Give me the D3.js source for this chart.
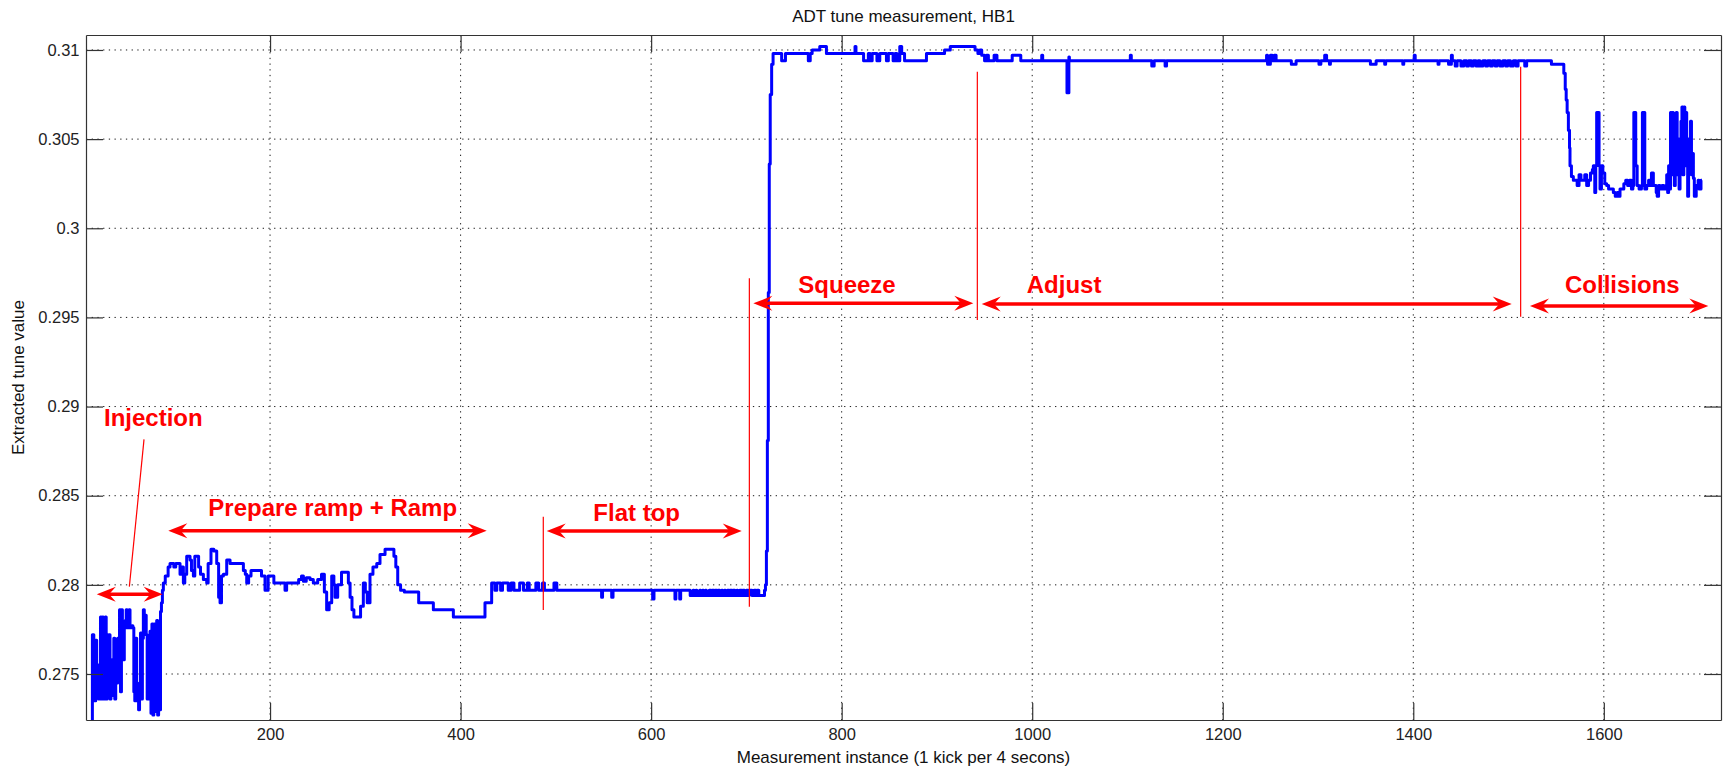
<!DOCTYPE html>
<html>
<head>
<meta charset="utf-8">
<script src="https://cdn.jsdelivr.net/npm/d3@7"></script>
<style>
  body { margin: 0; background: #fff; }
  text { font-family: "Liberation Sans", Arial, sans-serif; }
</style>
</head>
<body>
<div id="chart"></div>
<script>
const injection = [
  [13,0.2722],[13.5,0.2772],[15,0.2768],[16,0.2735],[17,0.2769],[18,0.2738],[19,0.2755],[20,0.2736],
  [21,0.2740],[22,0.2782],[23,0.2736],[24,0.2782],[25,0.2777],[26,0.2736],[27,0.2782],[28,0.2736],
  [29,0.2772],[30,0.2739],[31,0.2772],[32,0.2736],[33,0.2740],[34,0.2758],[35,0.2738],[36,0.2770],
  [37,0.2736],[38,0.2765],[39,0.2745],[40,0.2770],[41,0.2750],[42,0.2786],[43,0.2740],[44,0.2786],
  [45,0.2776],[46,0.2758],[47,0.2776],[48,0.2780],[49,0.2786],[50,0.2776],[51,0.2783],[52,0.2786],
  [53,0.2776],[55,0.2777],[56,0.2776],[57,0.2740],[58,0.2735],[59,0.2770],[60,0.2735],[61,0.2740],
  [62,0.2730],[63,0.2745],[64,0.2773],[65,0.2736],[66,0.2770],[67,0.2786],[68,0.2778],[69,0.2783],
  [70,0.2772],[71,0.2736],[72,0.2768],[73,0.2736],[74,0.2774],[75,0.2728],[76,0.2778],[77,0.2727],
  [78,0.2778],[79,0.2774],[80,0.2729],[81,0.2780],[82,0.2727],[83,0.2776],[84,0.2730],[85,0.2785],
  [86,0.2790],[87,0.2797],[88,0.2801]
];
const prepareRamp = [
  [90,0.2805],[93,0.2810],[95,0.2812],[99,0.2810],[101,0.2812],[104,0.2812],[105.5,0.2806],[107,0.2810],
  [109,0.2801],[110.5,0.2806],[112.5,0.2816],[116,0.2814],[117.5,0.2808],[119.5,0.2805],[121,0.2816],
  [123,0.2816],[125,0.2810],[127,0.2806],[130,0.2803],[133.5,0.2801],[135,0.2812],[138,0.2820],
  [141,0.2819],[144,0.2812],[146,0.2793],[147.5,0.2790],[149,0.2805],[151,0.2806],[154.5,0.2814],
  [158,0.2812],[170,0.2812],[172,0.2808],[174,0.2806],[175.5,0.2801],[177.5,0.2805],[180,0.2808],
  [187,0.2808],[191,0.2805],[194.7,0.2797],[198,0.2805],[201,0.2805],[204,0.2801],[213,0.2801],
  [215.7,0.2797],[217.4,0.2801],[228,0.2801],[230,0.2803],[233,0.2805],[235,0.2802],[238,0.2804],
  [242,0.2803],[245.4,0.2801],[250,0.2803],[254,0.2806],[257,0.2796],[259.4,0.2786],[262,0.2790],
  [264.7,0.2805],[267,0.2800],[268.2,0.2793],[271,0.2800],[275,0.2807],[280.4,0.2807],[282.2,0.2801],
  [284,0.2793],[286,0.2786],[288,0.2782],[292.7,0.2782],[295,0.2788],[297.9,0.2801],[300,0.2796],
  [302,0.2790],[304.9,0.2806],[308,0.2810],[312,0.2812],[315.4,0.2817],[320.7,0.2820],[327.7,0.2820],
  [330,0.2816],[332,0.2810],[334,0.2800],[337,0.2797],[341,0.2796],[353.9,0.2796],[356,0.2790],
  [368,0.2790],[371.4,0.2786],[389,0.2786],[392.4,0.2782],[424,0.2782],[425.6,0.2790],[429,0.2790],
  [432.6,0.2801]
];
const flatTop = [
  [436,0.2797],[438,0.2801],[442,0.2797],[444,0.2801],[448,0.2801],[450,0.2797],[453,0.2801],
  [456,0.2797],[460,0.2797],[462,0.2801],[466,0.2797],[470,0.2801],[472,0.2797],[477,0.2797],
  [479,0.2801],[482,0.2797],[486,0.2801],[488,0.2797],[496,0.2797],[498,0.2801],[501,0.2797],
  [547,0.2797],[548,0.2793],[549,0.2797],[558,0.2797],[558.6,0.2793],[560,0.2797],[601,0.2797],
  [601.6,0.2792],[603,0.2797],[624,0.2797],[625,0.2792],[626,0.2797],[629,0.2797],[630,0.2792],
  [631,0.2797],[640,0.2797],[641,0.2794],[643,0.2794],[644,0.2797],[645,0.2794],[647,0.2797],
  [648,0.2794],[650,0.2794],[651,0.2797],[652,0.2794],[654,0.2797],[655,0.2794],[657,0.2797],
  [658,0.2794],[660,0.2794],[661,0.2797],[663,0.2794],[664,0.2797],[666,0.2794],[667,0.2797],
  [669,0.2794],[670,0.2797],[672,0.2794],[674,0.2797],[675,0.2794],[677,0.2797],[678,0.2794],
  [680,0.2797],[682,0.2794],[683,0.2797],[685,0.2794],[686,0.2797],[688,0.2794],[690,0.2797],
  [691,0.2794],[693,0.2797],[695,0.2794],[696,0.2797],[698,0.2794],[700,0.2797],[702,0.2794],
  [703,0.2797],[705,0.2797],[706,0.2794],[708,0.2797],[710,0.2794],[711,0.2797],[713,0.2794],
  [717,0.2794],[719,0.2797],[720,0.2800]
];
const squeeze = [
  [721,0.2819],[722,0.2881],[723,0.2964],[724,0.3036],[725,0.3075],[726.5,0.3092],[728,0.3098],
  [736,0.3098],[737,0.3094],[740,0.3094],[741,0.3098],[763,0.3098],[765,0.3094],[767,0.3098],
  [769,0.3100],[775,0.3100],[777,0.3102],[782,0.3102],[784,0.3098],[813,0.3098],[814,0.3102],
  [815,0.3098],[822,0.3098],[823,0.3094],[826,0.3094],[828,0.3098],[830,0.3094],[832,0.3098],
  [837,0.3094],[840,0.3098],[847,0.3094],[849,0.3098],[853,0.3098],[854,0.3094],[856,0.3098],
  [858,0.3094],[861,0.3102],[863,0.3098],[866,0.3094],[888,0.3094],[889,0.3098],[907,0.3098],
  [908,0.3100],[913,0.3100],[914,0.3102],[938,0.3102],[940,0.3100],[943,0.3098],[945,0.3100],
  [947,0.3097]
];
const adjust = [
  [950,0.3094],[952,0.3097],[954,0.3094],[960,0.3097],[963,0.3094],[978,0.3094],[979,0.3097],
  [987,0.3097],[988,0.3094],[1009,0.3094],[1010,0.3097],[1011,0.3094],[1036,0.3094],[1036.5,0.3076],
  [1038,0.3076],[1038.5,0.3096],[1039,0.3094],[1102,0.3094],[1103,0.3097],[1104,0.3094],
  [1125,0.3094],[1125.5,0.3091],[1127,0.3091],[1128,0.3094],[1139,0.3094],[1139.5,0.3091],
  [1141,0.3094],[1245,0.3094],[1246,0.3097],[1247,0.3092],[1249,0.3092],[1250,0.3097],[1252,0.3094],
  [1254,0.3097],[1256,0.3094],[1271,0.3094],[1272,0.3092],[1276,0.3092],[1277,0.3094],[1300,0.3094],
  [1301,0.3092],[1303,0.3094],[1307,0.3097],[1309,0.3094],[1312,0.3092],[1313,0.3094],[1354,0.3094],
  [1355,0.3092],[1360,0.3092],[1361,0.3094],[1370,0.3092],[1371,0.3094],[1389,0.3092],[1390,0.3094],
  [1401,0.3097],[1402,0.3094],[1426,0.3092],[1427,0.3094],[1437,0.3092],[1440,0.3097],[1441,0.3094],
  [1444,0.3091],[1446,0.3094],[1449,0.3094],[1450,0.3091],[1452,0.3091],[1453,0.3094],[1456,0.3091],
  [1458,0.3094],[1461,0.3091],[1463,0.3094],[1466,0.3091],[1468,0.3094],[1470,0.3091],[1473,0.3094],
  [1476,0.3091],[1478,0.3094],[1481,0.3091],[1483,0.3094],[1486,0.3091],[1488,0.3094],[1491,0.3091],
  [1494,0.3094],[1497,0.3091],[1499,0.3094],[1502,0.3091],[1505,0.3094],[1508,0.3091],[1510,0.3094],
  [1516,0.3094],[1517,0.3091],[1519,0.3094],[1543,0.3094],[1545,0.3092],[1556,0.3092]
];
const collisions = [
  [1558,0.3087],[1559.5,0.3078],[1560.5,0.3072],[1561.5,0.3065],[1562.8,0.3055],[1564,0.3045],
  [1564.5,0.3035],[1566,0.3029],[1568,0.3027],[1571,0.3027],[1572,0.3024],[1574,0.3030],[1576,0.3027],
  [1578,0.3027],[1580,0.3030],[1582,0.3024],[1584,0.3027],[1586,0.3031],[1588,0.3033],[1589,0.3035],
  [1590.5,0.3020],[1591.5,0.3035],[1592.5,0.3065],[1594,0.3065],[1595,0.3035],[1596,0.3022],
  [1597.5,0.3035],[1599,0.3031],[1601,0.3025],[1603,0.3024],[1605,0.3022],[1608,0.3022],[1610,0.3020],
  [1612,0.3018],[1614,0.3020],[1615.5,0.3018],[1617,0.3022],[1619,0.3022],[1621,0.3025],[1623,0.3027],
  [1625,0.3024],[1627,0.3027],[1629,0.3022],[1630.5,0.3024],[1631.5,0.3065],[1632.5,0.3065],
  [1633.5,0.3035],[1635,0.3024],[1637,0.3022],[1639.5,0.3024],[1640.5,0.3065],[1642,0.3065],
  [1643,0.3022],[1645,0.3024],[1647,0.3027],[1649,0.3024],[1650,0.3031],[1652,0.3024],[1654,0.3024],
  [1655,0.3020],[1656,0.3018],[1657.5,0.3024],[1659,0.3022],[1661,0.3024],[1663,0.3022],[1665,0.3024],
  [1666,0.3030],[1667,0.3020],[1668,0.3035],[1669,0.3022],[1670,0.3065],[1671,0.3030],[1672,0.3065],
  [1673,0.3040],[1674,0.3024],[1675,0.3045],[1676,0.3065],[1677,0.3030],[1678,0.3050],[1679,0.3022],
  [1680,0.3045],[1681,0.3060],[1682,0.3068],[1683,0.3030],[1684,0.3068],[1685,0.3035],[1686,0.3065],
  [1687,0.3045],[1688,0.3018],[1689,0.3050],[1690,0.3040],[1691,0.3060],[1692,0.3030],[1693,0.3042],
  [1694,0.3028],[1695,0.3018],[1697,0.3024],[1699,0.3027],[1700,0.3022],[1702,0.3027],[1703,0.3027]
];

const xDomain = [6.8, 1723];
const yDomain = [0.27242, 0.31084];
const xTicks = [200, 400, 600, 800, 1000, 1200, 1400, 1600];
const yTicks = [0.275, 0.28, 0.285, 0.29, 0.295, 0.3, 0.305, 0.31];

// annotations, in data units
const phaseLabels = [
  { text: "Injection", x: 25.7, y: 0.28891 },
  { text: "Prepare ramp + Ramp", x: 135.2, y: 0.28388 },
  { text: "Flat top", x: 539.3, y: 0.28358 },
  { text: "Squeeze", x: 754.5, y: 0.29635 },
  { text: "Adjust", x: 994.3, y: 0.29635 },
  { text: "Collisions", x: 1559.3, y: 0.29635 }
];
const phaseArrows = [
  [18.1, 87.3, 0.27947], [93.2, 427.4, 0.28304], [490.4, 695.1, 0.28302],
  [707.3, 938.2, 0.29579], [947.0, 1503.3, 0.29575], [1522.5, 1709.7, 0.29564]
];
const phaseMarkers = [
  [486.8, 0.28382, 0.27859], [703.1, 0.29720, 0.27877],
  [942.4, 0.30878, 0.29486], [1512.7, 0.30906, 0.29504]
];
const injectionPointer = [[67.7, 0.28816], [52.3, 0.27990]];

const width = 1723, height = 768;
const plot = { left: 86, right: 1721, top: 35, bottom: 720 };

const svg = d3.select('#chart').append('svg')
  .attr('width', width)
  .attr('height', height)
  .style('background', '#fff');

const x = d3.scaleLinear().domain(xDomain).range([plot.left, plot.right]);
const y = d3.scaleLinear().domain(yDomain).range([plot.bottom, plot.top]);

// dotted grid
const grid = svg.append('g')
  .attr('stroke', '#1a1a1a')
  .attr('stroke-width', 1)
  .attr('stroke-dasharray', '1.3,4.4');
grid.selectAll('.gx').data(xTicks).enter().append('line')
  .attr('x1', d => x(d)).attr('x2', d => x(d))
  .attr('y1', plot.top).attr('y2', plot.bottom);
grid.selectAll('.gy').data(yTicks).enter().append('line')
  .attr('y1', d => y(d)).attr('y2', d => y(d))
  .attr('x1', plot.left).attr('x2', plot.right);

// tune trace, sample-and-hold like the sampled measurement
svg.append('clipPath').attr('id', 'clip').append('rect')
  .attr('x', plot.left).attr('y', plot.top)
  .attr('width', plot.right - plot.left).attr('height', plot.bottom - plot.top);

const series = [].concat(injection, prepareRamp, flatTop, squeeze, adjust, collisions);
const line = d3.line().x(d => x(d[0])).y(d => y(d[1])).curve(d3.curveStepAfter);
svg.append('path')
  .datum(series)
  .attr('clip-path', 'url(#clip)')
  .attr('fill', 'none')
  .attr('stroke', '#0000ff')
  .attr('stroke-width', 3)
  .attr('stroke-linejoin', 'round')
  .attr('d', line);

// axes box with inward ticks
const fmt = d => String(+d.toFixed(3));
function styleAxis(g) {
  g.select('.domain').attr('stroke', '#333').attr('stroke-width', 1.2);
  g.selectAll('.tick line').attr('stroke', '#333').attr('stroke-width', 1.2);
  g.selectAll('text').attr('fill', '#222').style('font-size', '16.5px');
}
svg.append('g').attr('transform', `translate(0,${plot.bottom})`)
  .call(d3.axisBottom(x).tickValues(xTicks).tickSizeInner(-17).tickSizeOuter(0).tickPadding(8).tickFormat(d3.format('d')))
  .call(styleAxis);
svg.append('g').attr('transform', `translate(0,${plot.top})`)
  .call(d3.axisTop(x).tickValues(xTicks).tickSizeInner(-17).tickSizeOuter(0).tickFormat(''))
  .call(styleAxis);
svg.append('g').attr('transform', `translate(${plot.left},0)`)
  .call(d3.axisLeft(y).tickValues(yTicks).tickSizeInner(-17).tickSizeOuter(0).tickPadding(6.5).tickFormat(fmt))
  .call(styleAxis);
svg.append('g').attr('transform', `translate(${plot.right},0)`)
  .call(d3.axisRight(y).tickValues(yTicks).tickSizeInner(-17).tickSizeOuter(0).tickFormat(''))
  .call(styleAxis);

// titles
svg.append('text')
  .attr('x', (plot.left + plot.right) / 2).attr('y', 22)
  .attr('text-anchor', 'middle').style('font-size', '17px').attr('fill', '#111')
  .text('ADT tune measurement, HB1');
svg.append('text')
  .attr('x', (plot.left + plot.right) / 2).attr('y', 763)
  .attr('text-anchor', 'middle').style('font-size', '17px').attr('fill', '#111')
  .text('Measurement instance (1 kick per 4 secons)');
svg.append('text')
  .attr('transform', `translate(24,${(plot.top + plot.bottom) / 2}) rotate(-90)`)
  .attr('text-anchor', 'middle').style('font-size', '17px').attr('fill', '#111')
  .text('Extracted tune value');

// phase annotations
const red = '#ff0000';
const notes = svg.append('g');

notes.selectAll('.marker').data(phaseMarkers).enter().append('line')
  .attr('x1', d => x(d[0])).attr('x2', d => x(d[0]))
  .attr('y1', d => y(d[1])).attr('y2', d => y(d[2]))
  .attr('stroke', red).attr('stroke-width', 1.2);

notes.append('line')
  .attr('x1', x(injectionPointer[0][0])).attr('y1', y(injectionPointer[0][1]))
  .attr('x2', x(injectionPointer[1][0])).attr('y2', y(injectionPointer[1][1]))
  .attr('stroke', red).attr('stroke-width', 1.2);

const headLen = 19, headHalf = 7.5;
function head(tx, ty, dir) {
  return `M${tx},${ty}L${tx - dir * headLen},${ty - headHalf}` +
    `L${tx - dir * headLen * 0.65},${ty}L${tx - dir * headLen},${ty + headHalf}Z`;
}
const arrows = notes.selectAll('.arrow').data(phaseArrows).enter().append('g');
arrows.append('line')
  .attr('x1', d => x(d[0]) + 8).attr('x2', d => x(d[1]) - 8)
  .attr('y1', d => y(d[2])).attr('y2', d => y(d[2]))
  .attr('stroke', red).attr('stroke-width', 3.5);
arrows.append('path').attr('fill', red).attr('d', d => head(x(d[0]), y(d[2]), -1));
arrows.append('path').attr('fill', red).attr('d', d => head(x(d[1]), y(d[2]), 1));

notes.selectAll('.label').data(phaseLabels).enter().append('text')
  .attr('x', d => x(d.x)).attr('y', d => y(d.y))
  .attr('fill', red)
  .style('font-size', '24px').style('font-weight', 'bold')
  .text(d => d.text);
</script>
</body>
</html>
